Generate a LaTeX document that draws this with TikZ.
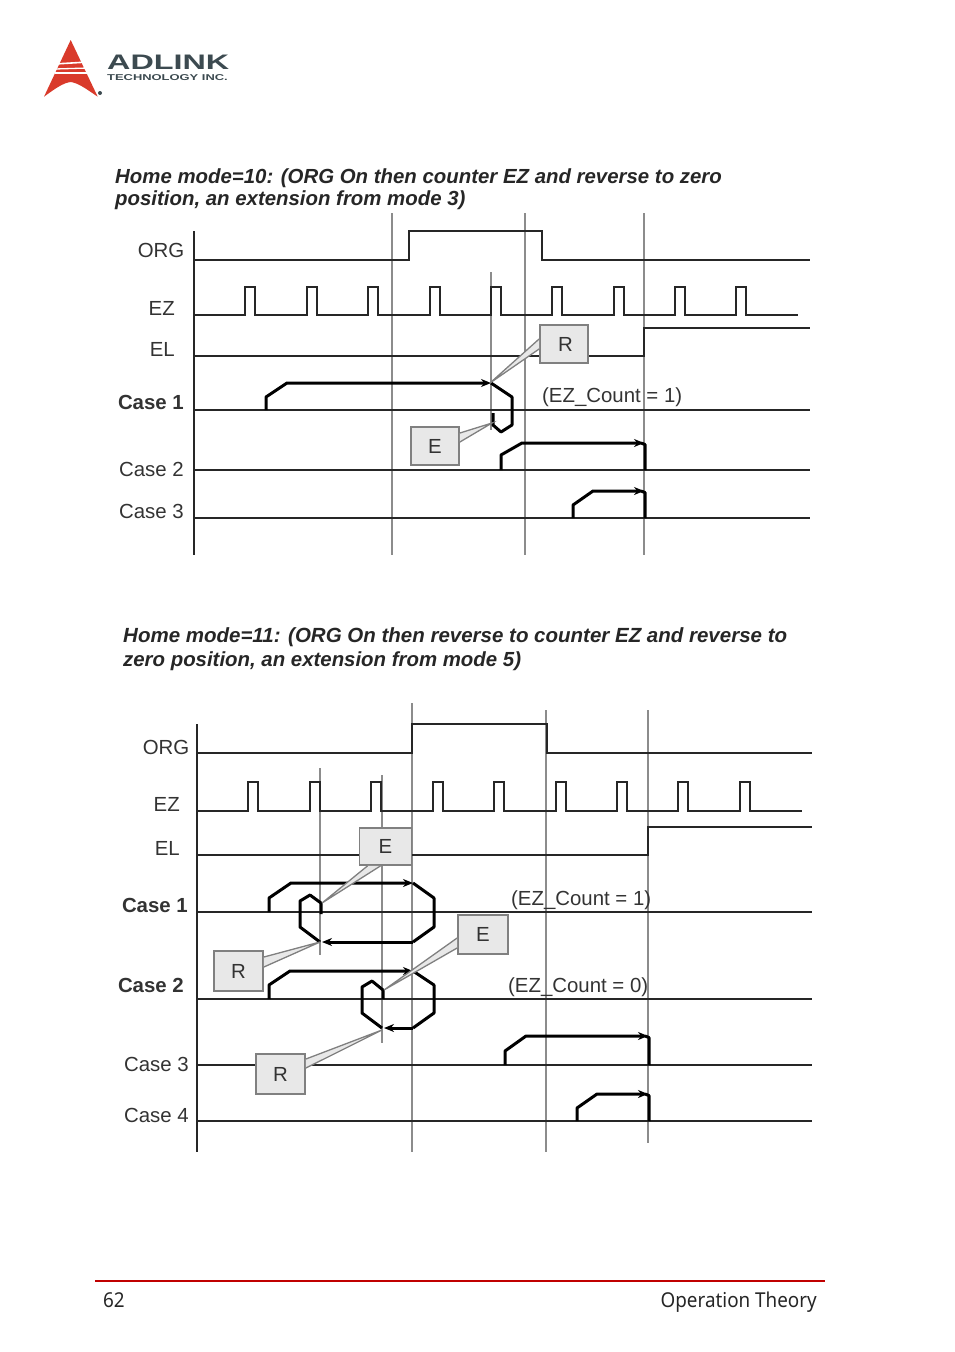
\documentclass[tikz,border=0pt]{standalone}
\usepackage{fontspec}
\setmainfont{Liberation Sans}
\newfontfamily\pagefont{Noto Sans}
\usepackage{tikz}
\usetikzlibrary{
  arrows.meta,
  calc
}
\definecolor{adlinkred}{HTML}{D93A2B}
\definecolor{adlinkgrey}{HTML}{3C4A50}
\definecolor{rulered}{HTML}{C00000}

\begin{document}
\begin{tikzpicture}[
    x=1pt, y=-1pt,
    font=\fontsize{20.4}{22}\selectfont,
    signal/.style={line width=1.5pt, black!85},
    guide/.style={line width=1.4pt, black!45},
    run/.style={line width=3pt, black, line join=round},
    runarrow/.style={run, -{Stealth[length=10pt, width=8pt]}},
    sig/.style={anchor=east, text=black!80, inner sep=0pt},
    sigbold/.style={sig, font=\fontsize{20.4}{22}\selectfont\bfseries},
    count/.style={anchor=west, inner sep=0pt, text=black!80},
    title/.style={anchor=west, inner sep=0pt, font=\fontsize{20.4}{22}\selectfont\itshape\bfseries, text=black!85},
    callout/.style={draw=black!50, line width=1.8pt, fill=black!9, inner sep=0pt, text=black!80},
    tail/.style={draw=black!50, line width=1.3pt, fill=black!9},
    foot/.style={inner sep=0pt, font=\pagefont\fontsize{20.5}{22}\selectfont, text=black!85},
  ]
  \useasboundingbox (0,0) rectangle (954,1352);

  % Logo
  \fill[adlinkred] (70.7,40) -- (97.7,96.7) .. controls (85,88) and (78,83) .. (70.7,82)
    .. controls (63,83) and (56,88) .. (44,96.7) -- cycle;
  \foreach \ya/\yb/\w in {64/62/1.6, 69/68/1.3, 73/73/1.2} {
    \draw[white, line width=\w pt] (55,\ya) -- (88,\yb);
  }
  \node[font=\fontsize{21}{21}\selectfont\bfseries, text=adlinkgrey, inner sep=0pt, anchor=west] (brand) at (107,62.5)
    {\scalebox{1.54}[1]{ADLINK}};
  \node[font=\fontsize{8.5}{9}\selectfont\bfseries, text=adlinkgrey, inner sep=0pt, anchor=west] (brandsub) at (107,78)
    {\scalebox{1.52}[1]{TECHNOLOGY INC.}};
  \fill[adlinkgrey] (100,93) circle (2);

  % Mode 10 title
  \node[title] (titleA) at (115,178) {Home mode=10: (ORG On then counter EZ and reverse to zero};
  \node[title] (titleB) at (115,200) {position, an extension from mode 3)};

  % Mode 10 guides
  \foreach \x/\top/\bot in {392/213/555, 525/213/555, 644/213/555, 491/272/430} {
    \draw[guide] (\x,\top) -- (\x,\bot);
  }

  % Mode 10 signals
  \draw[signal] (194,231) -- (194,555);
  \draw[signal] (194,260) -- (409,260) -- (409,231) -- (542,231) -- (542,260) -- (810,260);
  \draw[signal] (194,315) foreach \x in {245,307,368,430,491,552,614,675,736} {
      -- (\x,315) -- (\x,287) -- (\x+10,287) -- (\x+10,315) } -- (798,315);
  \draw[signal] (194,356) -- (644,356) -- (644,328) -- (810,328);
  \foreach \y in {410,470,518} {
    \draw[signal] (194,\y) -- (810,\y);
  }

  % Mode 10 labels
  \node[sig] (orgA) at (184.5,250) {ORG};
  \node[sig] (ezA) at (175,308) {EZ};
  \node[sig] (elA) at (175,349) {EL};
  \node[sigbold] (caseAa) at (184,402) {Case 1};
  \node[sig] (caseAb) at (184,469) {Case 2};
  \node[sig] (caseAc) at (184,511) {Case 3};
  \node[count] (countA) at (542,397) {(EZ\_Count = 1)};

  % Mode 10 moves
  \draw[runarrow] (266,410) -- (266,397) -- (287,383) -- (491,383);
  \draw[run] (491,383) -- (512,397) -- (512,425) -- (501,432) -- (493,425) -- (493,413);
  \draw[runarrow] (501,470) -- (501,455) -- (522,443) -- (644,443);
  \draw[run] (641,443) -- (645,444.5) -- (645,470);
  \draw[runarrow] (573,518) -- (573,505) -- (593,491) -- (644,491);
  \draw[run] (641,491) -- (645,492.5) -- (645,518);

  % Mode 10 callouts
  \coordinate (tipRa) at (490,383);
  \coordinate (tipEa) at (492,423);
  \node[callout, minimum width=48pt, minimum height=38pt] (boxRa) at (564,344) {\hspace{3pt}R};
  \node[callout, minimum width=48pt, minimum height=38pt] (boxEa) at (435,446) {E};
  \filldraw[tail] ($(boxRa.west)+(0,-5)$) -- (tipRa) -- ($(boxRa.west)+(0,5)$);
  \filldraw[tail] ($(boxEa.east)+(0,-13)$) -- (tipEa) -- ($(boxEa.east)+(0,-4)$);

  % Mode 11 title
  \node[title, font=\fontsize{20.5}{22}\selectfont\itshape\bfseries] (titleC) at (123,637) {Home mode=11: (ORG On then reverse to counter EZ and reverse to};
  \node[title] (titleD) at (123,661) {zero position, an extension from mode 5)};

  % Mode 11 guides
  \foreach \x/\top/\bot in {412/703/1152, 546/710/1152, 648/710/1143, 320/768/955, 382/775/1043} {
    \draw[guide] (\x,\top) -- (\x,\bot);
  }

  % Mode 11 signals
  \draw[signal] (197,724) -- (197,1152);
  \draw[signal] (197,753) -- (412,753) -- (412,724) -- (547,724) -- (547,753) -- (812,753);
  \draw[signal] (197,811) foreach \x in {248,310,371,433,494,556,617,678,740} {
      -- (\x,811) -- (\x,782) -- (\x+10,782) -- (\x+10,811) } -- (802,811);
  \draw[signal] (197,855) -- (648,855) -- (648,827) -- (812,827);
  \foreach \y in {912,999,1065,1121} {
    \draw[signal] (197,\y) -- (812,\y);
  }

  % Mode 11 labels
  \node[sig] (orgB) at (189.5,747) {ORG};
  \node[sig] (ezB) at (180,804) {EZ};
  \node[sig] (elB) at (180,848) {EL};
  \node[sigbold] (caseBa) at (188,905) {Case 1};
  \node[sigbold] (caseBb) at (184,985) {Case 2};
  \node[sig] (caseBc) at (189,1064) {Case 3};
  \node[sig] (caseBd) at (189,1115) {Case 4};
  \node[count] (countB) at (511,900) {(EZ\_Count = 1)};
  \node[count] (countC) at (508,987) {(EZ\_Count = 0)};

  % Mode 11 moves
  \draw[runarrow] (269,912) -- (269,898) -- (291,883) -- (413,883);
  \draw[run] (413,883) -- (434,898) -- (434,927) -- (413,942);
  \draw[runarrow] (413,942) -- (322,942);
  \draw[run] (320,942) -- (300,927) -- (300,901) -- (310,895) -- (321,903) -- (321,914);
  \draw[runarrow] (269,999) -- (269,985) -- (290,971) -- (413,971);
  \draw[run] (413,971) -- (434,985) -- (434,1013) -- (413,1028);
  \draw[runarrow] (413,1028) -- (384,1028);
  \draw[run] (382,1028) -- (362,1013) -- (362,987) -- (372,981) -- (383,990) -- (383,999);
  \draw[runarrow] (505,1065) -- (505,1051) -- (526,1036) -- (648,1036);
  \draw[run] (645,1036) -- (649,1037.5) -- (649,1065);
  \draw[runarrow] (577,1121) -- (577,1108) -- (597,1094) -- (648,1094);
  \draw[run] (645,1094) -- (649,1095.5) -- (649,1121);

  % Mode 11 callouts
  \coordinate (tipEb) at (322,903);
  \coordinate (tipRb) at (320,942);
  \coordinate (tipEc) at (384,990);
  \coordinate (tipRc) at (382,1030);
  \node[callout, minimum width=52pt, minimum height=37pt] (boxEb) at (385.5,846.5) {E\hspace{6pt}};
  \node[callout, minimum width=49pt, minimum height=40pt] (boxRb) at (238.5,971) {R};
  \node[callout, minimum width=50pt, minimum height=39pt] (boxEc) at (483,934.5) {E};
  \node[callout, minimum width=49pt, minimum height=40pt] (boxRc) at (280.5,1074) {R};
  \filldraw[tail] ($(boxEb.south)+(-18,0)$) -- (tipEb) -- ($(boxEb.south)+(-5,0)$);
  \filldraw[tail] ($(boxRb.east)+(0,-14)$) -- (tipRb) -- ($(boxRb.east)+(0,-4)$);
  \filldraw[tail] ($(boxEc.west)+(0,3.5)$) -- (tipEc) -- ($(boxEc.west)+(0,13.5)$);
  \filldraw[tail] ($(boxRc.east)+(0,-15)$) -- (tipRc) -- ($(boxRc.east)+(0,-6)$);

  % Page foot
  \draw[rulered, line width=1.8pt] (95,1281) -- (825,1281);
  \node[foot, anchor=base west] (pagenum) at (103,1307) {\scalebox{0.92}[1]{62}};
  \node[foot, anchor=base east] (chapter) at (817,1307) {\scalebox{0.92}[1]{Operation Theory}};

\end{tikzpicture}
\end{document}
